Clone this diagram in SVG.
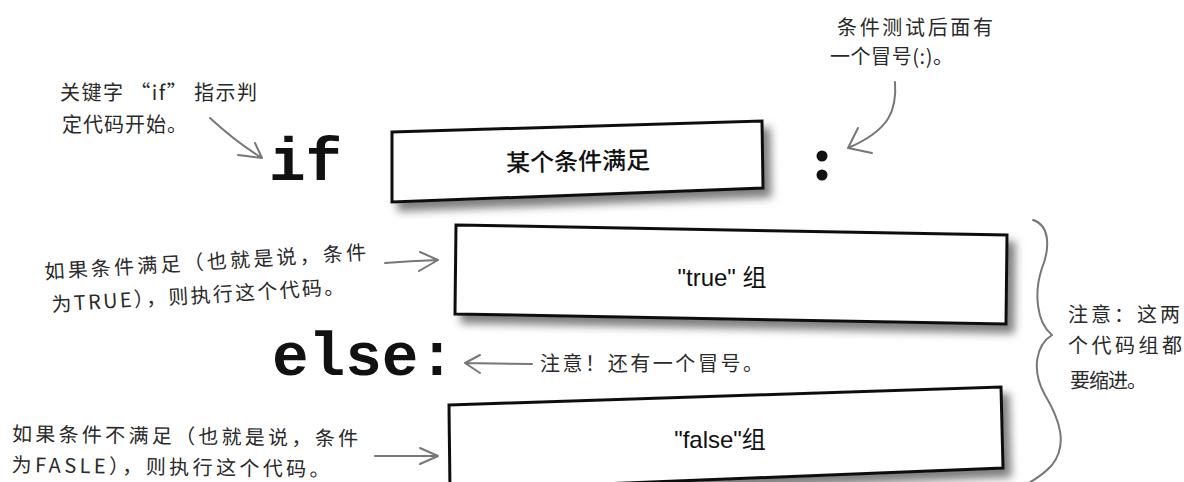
<svg xmlns="http://www.w3.org/2000/svg" width="1184" height="482" viewBox="0 0 1184 482">
<defs>
<filter id="sh" x="-10%" y="-20%" width="125%" height="160%">
<feDropShadow dx="7" dy="8" stdDeviation="4" flood-color="#000" flood-opacity="0.5"/>
</filter>
<style>
.box{fill:#fff;stroke:#111;stroke-width:3;stroke-linejoin:miter}
.kw{font-family:"Liberation Mono","DejaVu Sans Mono",monospace;font-weight:bold;font-size:61px;fill:#111}
.bt{font-family:"Liberation Sans","Noto Sans CJK SC",sans-serif;font-size:24px;fill:#111;text-anchor:middle}
.note{font-family:"Noto Sans CJK SC","Noto Sans CJK JP",sans-serif;font-size:20px;fill:#2a2a2a}
.arr{fill:none;stroke:#777;stroke-width:2;stroke-linecap:round;stroke-linejoin:round}
</style>
</defs>
<rect width="1184" height="482" fill="#fff"/>

<g id="kw-if"><text class="kw" x="269" y="180">if</text></g>
<g id="colon1"><circle cx="822" cy="156" r="5.5" fill="#111"/><circle cx="822" cy="175" r="5.5" fill="#111"/></g>
<g id="kw-else"><text class="kw" x="272" y="375">else:</text></g>

<g id="cond-box">
<polygon class="box" filter="url(#sh)" points="392,132 762,121 763,188 392,202"/>
<text class="bt" x="578" y="170" font-size="26" font-weight="500" transform="rotate(-1.2 578 162)">某个条件满足</text>
</g>
<g id="true-box">
<polygon class="box" filter="url(#sh)" points="456,225 1007,235 1006,324 455,314"/>
<text class="bt" x="722" y="286">"true" 组</text>
</g>
<g id="false-box">
<polygon class="box" filter="url(#sh)" points="449,405 1001,387 1003,468 450,490"/>
<text class="bt" x="720" y="448">"false"组</text>
</g>

<g id="note-if">
<text class="note" x="60" y="100" textLength="197" lengthAdjust="spacing">关键字 “if” 指示判</text>
<text class="note" x="62" y="132" textLength="125" lengthAdjust="spacing">定代码开始。</text>
</g>
<g id="note-colon">
<text class="note" x="837" y="35" textLength="156" lengthAdjust="spacing">条件测试后面有</text>
<text class="note" x="830" y="64" textLength="123" lengthAdjust="spacing">一个冒号(:)。</text>
</g>
<g id="note-true" transform="rotate(-3.5 45 279)">
<text class="note" x="45" y="279" textLength="322" lengthAdjust="spacing">如果条件满足（也就是说，条件</text>
<text class="note" x="50" y="312" textLength="293" lengthAdjust="spacing">为TRUE），则执行这个代码。</text>
</g>
<g id="note-else">
<text class="note" x="540" y="371" textLength="223" lengthAdjust="spacing">注意！还有一个冒号。</text>
</g>
<g id="note-false" transform="rotate(0.8 12 440)">
<text class="note" x="12" y="441" font-size="19" textLength="346" lengthAdjust="spacing">如果条件不满足（也就是说，条件</text>
<text class="note" x="12" y="472" font-size="19" textLength="318" lengthAdjust="spacing">为FASLE），则执行这个代码。</text>
</g>
<g id="note-indent">
<text class="note" x="1068" y="322" textLength="112" lengthAdjust="spacing">注意：这两</text>
<text class="note" x="1068" y="353" textLength="114" lengthAdjust="spacing">个代码组都</text>
<text class="note" x="1070" y="388" textLength="77" lengthAdjust="spacing">要缩进。</text>
</g>

<g id="connectors">
<path class="arr" d="M210,118 Q236,142 262,158 M255,143 L262,158 L238,155"/>
<path class="arr" d="M895,82 C897,110 890,130 848,148 M858,128 L848,148 L872,153"/>
<path class="arr" d="M385,263 Q410,261 438,260 M420,252 L438,260 L419,271"/>
<path class="arr" d="M532,364 L465,363 M480,355 L465,363 L480,373"/>
<path class="arr" d="M375,456 L438,456 M420,448 L438,456 L420,464"/>
<path class="arr" d="M1033,220 C1050,225 1050,248 1042,268 C1034,292 1036,322 1052,335 C1036,345 1031,370 1045,395 C1060,420 1068,445 1052,465 C1044,474 1036,479 1027,484"/>
</g>
</svg>
